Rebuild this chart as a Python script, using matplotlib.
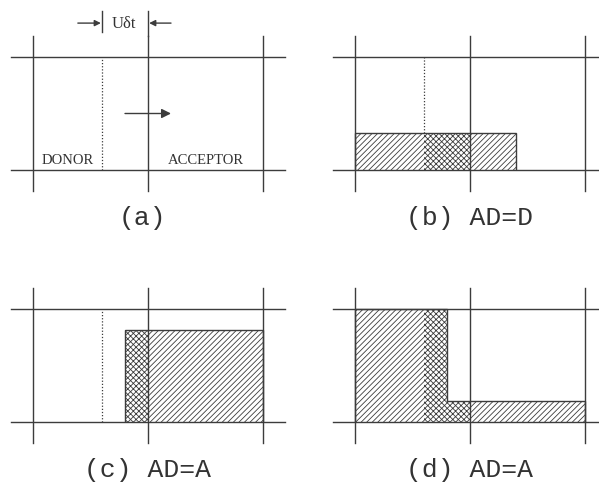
import matplotlib
matplotlib.use("Agg")
import matplotlib.pyplot as plt
import numpy as np

# ---------------- data (cell units: cell width = 1, cell height = 1) ----------------
grid_cols = [0.0, 1.0, 2.0]          # vertical grid lines
grid_rows = [0.0, 1.0]               # horizontal grid lines
donor_shift = 0.6                    # dotted line (U*dt to the left of the face)

panel_labels = ["(a)", "(b) AD=D", "(c) AD=A", "(d) AD=A"]
region_labels = ["DONOR", "ACCEPTOR"]
dim_label = "U\u03b4t"

# fill segments per panel: edges, heights, patterns
b_edges = [0.0, 0.6, 1.0, 1.4]
b_heights = [0.33, 0.33, 0.33]
b_patterns = ["//////", "xxxxxx", "//////"]

c_edges = [0.8, 1.0, 2.0]
c_heights = [0.81, 0.81]
c_patterns = ["xxxxxx", "//////"]

d_edges = [0.0, 0.6, 0.8, 1.0, 2.0]
d_heights = [1.0, 1.0, 0.19, 0.19]
d_patterns = ["//////", "xxxxxx", "xxxxxx", "//////"]

fills = [None, (b_edges, b_heights, b_patterns),
         (c_edges, c_heights, c_patterns),
         (d_edges, d_heights, d_patterns)]
dotted_from = [0.0, 0.33, 0.0, None]

# ---------------- layout ----------------
W, H = 599, 489
CW, CH = 115.0, 113.0       # cell size in px
origins = [(33, 171), (355, 171), (33, 423), (355, 423)]   # px of (u=0,v=0)
XL = (-0.3, 2.3)
YL = (-0.3, 1.3)

LC = "#3c3c3c"
plt.rcParams["hatch.linewidth"] = 0.6

fig = plt.figure(figsize=(W / 100, H / 100), dpi=100)
fig.patch.set_facecolor("white")

serif = ["Liberation Serif", "DejaVu Serif"]
mono = ["Liberation Mono", "DejaVu Sans Mono"]

for i, (ox, oy) in enumerate(origins):
    left = ox + XL[0] * CW
    width = (XL[1] - XL[0]) * CW
    top = oy - YL[1] * CH
    height = (YL[1] - YL[0]) * CH
    ax = fig.add_axes([left / W, (H - top - height) / H, width / W, height / H])
    ax.set_xlim(*XL)
    ax.set_ylim(*YL)
    ax.axis("off")

    right_ext = 2.19 if i % 2 == 0 else 2.4
    for u in grid_cols:
        ax.plot([u, u], [-0.19, 1.19], color=LC, lw=1.0, clip_on=False, zorder=3)
    for v in grid_rows:
        ax.plot([-0.19, right_ext], [v, v], color=LC, lw=1.0, clip_on=False, zorder=3)

    if dotted_from[i] is not None:
        ax.plot([donor_shift, donor_shift], [dotted_from[i], 1.0], color=LC,
                lw=0.9, ls=(0, (1, 1.5)), zorder=3)

    if fills[i] is not None:
        edges, heights, pats = fills[i]
        lefts = np.array(edges[:-1])
        widths = np.diff(edges)
        for l, w, h, p in zip(lefts, widths, heights, pats):
            ax.bar(l, h, width=w, align="edge", fill=False, hatch=p,
                   edgecolor=LC, linewidth=0, zorder=2)
        ax.stairs(heights, edges, baseline=0, color=LC, lw=1.0, zorder=3)

    lab_u = 0.95 if i == 0 else 1.0
    ax.text(lab_u, -0.42, panel_labels[i], ha="center", va="center",
            fontsize=19, family=mono, color="#333333")

    if i == 0:
        ax.text(0.3, 0.095, region_labels[0], ha="center", va="center",
                fontsize=10.5, family=serif, color="#333333")
        ax.text(1.5, 0.095, region_labels[1], ha="center", va="center",
                fontsize=10.5, family=serif, color="#333333")
        # flow arrow
        ax.annotate("", xy=(1.2, 0.5), xytext=(0.8, 0.5),
                    arrowprops=dict(arrowstyle="-|>", color=LC, lw=1.0,
                                    mutation_scale=14, shrinkA=0, shrinkB=0))
        # dimension U dt
        vt = 1.3
        ax.plot([donor_shift, donor_shift], [1.22, 1.41], color=LC, lw=1.0, clip_on=False)
        ax.plot([1.0, 1.0], [1.19, 1.41], color=LC, lw=1.0, clip_on=False)
        ax.annotate("", xy=(donor_shift - 0.01, vt), xytext=(0.39, vt),
                    arrowprops=dict(arrowstyle="-|>", color=LC, lw=1.0,
                                    mutation_scale=9, shrinkA=0, shrinkB=0),
                    annotation_clip=False)
        ax.annotate("", xy=(1.01, vt), xytext=(1.2, vt),
                    arrowprops=dict(arrowstyle="-|>", color=LC, lw=1.0,
                                    mutation_scale=9, shrinkA=0, shrinkB=0),
                    annotation_clip=False)
        ax.text(0.79, vt, dim_label, ha="center", va="center",
                fontsize=12, family=serif, color="#333333")

fig.savefig("out.png", dpi=100, facecolor="white")
